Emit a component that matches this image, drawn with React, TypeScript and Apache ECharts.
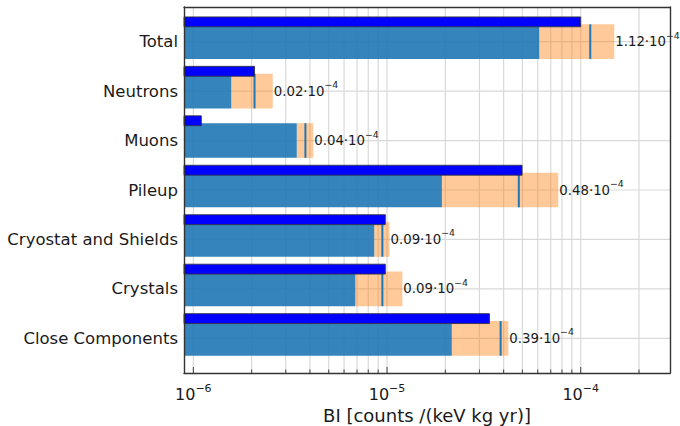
import React, { useEffect, useRef } from "react";
import * as echarts from "echarts";

const categories = [
  "Total",
  "Neutrons",
  "Muons",
  "Pileup",
  "Cryostat and Shields",
  "Crystals",
  "Close Components",
];
const blueEnd = [6.11e-5, 1.57e-6, 3.42e-6, 1.92e-5, 8.59e-6, 6.86e-6, 2.16e-5];
const orangeEnd = [1.49e-4, 2.57e-6, 4.16e-6, 7.66e-5, 1.03e-5, 1.2e-5, 4.23e-5];
const medianVal = [1.12e-4, 2.07e-6, 3.79e-6, 4.79e-5, 9.46e-6, 9.46e-6, 3.86e-5];
const refBar = [1.0e-4, 2.07e-6, 1.1e-6, 4.98e-5, 9.8e-6, 9.8e-6, 3.38e-5];
const valueLabels = ["1.12", "0.02", "0.04", "0.48", "0.09", "0.09", "0.39"];
const labelExp = "−4";

const XMIN = 0.895e-6;
const XMAX = 2.89e-4;
const majorTicks = [1e-6, 1e-5, 1e-4];
const minorTicks = [
  2e-6, 3e-6, 4e-6, 5e-6, 6e-6, 7e-6, 8e-6, 9e-6,
  2e-5, 3e-5, 4e-5, 5e-5, 6e-5, 7e-5, 8e-5, 9e-5,
  2e-4,
];
const YMIN = -0.7;
const YMAX = 6.7;

const FONT = "DejaVu Sans";
const TEXT = "#1a1a1a";

export default function App() {
  const ref = useRef<HTMLDivElement>(null);
  useEffect(() => {
    if (!ref.current) return;
    const chart = echarts.init(ref.current, null, { renderer: "svg" });

    const barData = categories.map((_, i) => [
      i,
      blueEnd[i],
      orangeEnd[i],
      medianVal[i],
      refBar[i],
    ]);
    const tickData = [
      ...majorTicks.map((v) => [v, 1]),
      ...minorTicks.map((v) => [v, 0]),
    ];
    const catData = categories.map((_, i) => [XMIN, i]);

    const frameLine = {
      show: true,
      onZero: false,
      lineStyle: { color: "#333", width: 1.4 },
    };

    const option: any = {
      animation: false,
      backgroundColor: "#fff",
      textStyle: { fontFamily: FONT },
      grid: {
        left: 184,
        top: 7,
        width: 486,
        height: 366,
        containLabel: false,
        outerBoundsMode: "none",
      },
      xAxis: [
        {
          type: "log",
          logBase: 10,
          min: XMIN,
          max: XMAX,
          position: "bottom",
          axisLine: frameLine,
          z: 10,
          axisTick: { show: false },
          splitLine: { show: false },
          minorTick: { show: false },
          axisLabel: {
            show: true,
            showMinLabel: false,
            showMaxLabel: false,
            margin: 10,
            formatter: (v: number) => {
              const l = Math.log10(v);
              if (Math.abs(l - Math.round(l)) > 0.01) return "";
              const e = Math.round(l);
              return `{m|10}{s|${e < 0 ? "−" + -e : e}}`;
            },
            rich: {
              m: { fontSize: 16, lineHeight: 22, color: TEXT, fontFamily: FONT, verticalAlign: "middle" },
              s: { fontSize: 11, lineHeight: 10, color: TEXT, fontFamily: FONT, verticalAlign: "top" },
            },
          },
          name: "BI [counts /(keV kg yr)]",
          nameLocation: "middle",
          nameGap: 33,
          nameTextStyle: { fontSize: 18, color: TEXT, fontFamily: FONT },
        },
        {
          type: "log",
          logBase: 10,
          min: XMIN,
          max: XMAX,
          position: "top",
          axisLine: frameLine,
          z: 10,
          axisTick: { show: false },
          axisLabel: { show: false },
          splitLine: { show: false },
        },
      ],
      yAxis: [
        {
          type: "value",
          min: YMIN,
          max: YMAX,
          inverse: true,
          position: "left",
          axisLine: frameLine,
          z: 10,
          axisTick: { show: false },
          axisLabel: { show: false },
          splitLine: { show: false },
        },
        {
          type: "value",
          min: YMIN,
          max: YMAX,
          inverse: true,
          position: "right",
          axisLine: frameLine,
          z: 10,
          axisTick: { show: false },
          axisLabel: { show: false },
          splitLine: { show: false },
        },
      ],
      series: [
        {
          type: "custom",
          name: "vgrid",
          xAxisIndex: 0,
          yAxisIndex: 0,
          z: 1,
          silent: true,
          data: tickData,
          encode: { x: 0 },
          renderItem: (params: any, api: any) => {
            const v = api.value(0);
            const major = api.value(1) === 1;
            const top = api.coord([v, YMIN]);
            const bot = api.coord([v, YMAX]);
            const tl = major ? 6 : 3.5;
            return {
              type: "group",
              children: [
                {
                  type: "line",
                  shape: { x1: top[0], y1: top[1], x2: bot[0], y2: bot[1] },
                  style: { stroke: "#d9d9d9", lineWidth: 1.2 },
                },
                {
                  type: "line",
                  z2: 5,
                  shape: { x1: bot[0], y1: bot[1], x2: bot[0], y2: bot[1] - tl },
                  style: { stroke: "#444", lineWidth: 1 },
                },
              ],
            };
          },
        },
        {
          type: "custom",
          name: "hgrid",
          xAxisIndex: 0,
          yAxisIndex: 0,
          z: 1,
          silent: true,
          data: catData,
          encode: { x: 0, y: 1 },
          renderItem: (params: any, api: any) => {
            const i = api.value(1);
            const a = api.coord([XMIN, i]);
            const b = api.coord([XMAX, i]);
            return {
              type: "group",
              children: [
                {
                  type: "line",
                  shape: { x1: a[0], y1: a[1], x2: b[0], y2: b[1] },
                  style: { stroke: "#d9d9d9", lineWidth: 1.2 },
                },
                {
                  type: "text",
                  style: {
                    x: a[0] - 6,
                    y: a[1],
                    text: categories[i],
                    align: "right",
                    verticalAlign: "middle",
                    fill: TEXT,
                    fontSize: 16.5,
                    fontFamily: FONT,
                  },
                },
              ],
            };
          },
        },
        {
          type: "custom",
          name: "bars",
          xAxisIndex: 0,
          yAxisIndex: 0,
          z: 3,
          data: barData,
          encode: { x: [1, 2, 3, 4], y: 0 },
          renderItem: (params: any, api: any) => {
            const i = api.value(0);
            const b = api.value(1);
            const o = api.value(2);
            const m = api.value(3);
            const r = api.value(4);
            const x0 = api.coord([XMIN, i])[0];
            const xb = api.coord([b, i])[0];
            const xo = api.coord([o, i])[0];
            const xm = api.coord([m, i])[0];
            const xr = api.coord([r, i])[0];
            const yT = api.coord([XMIN, i - 0.35])[1];
            const yB = api.coord([XMIN, i + 0.35])[1];
            const yC = api.coord([XMIN, i])[1];
            const dT = api.coord([XMIN, i - 0.5])[1];
            const dB = api.coord([XMIN, i - 0.3])[1];
            return {
              type: "group",
              children: [
                {
                  type: "rect",
                  shape: { x: xb, y: yT, width: xo - xb, height: yB - yT },
                  style: { fill: "rgba(255,127,14,0.42)" },
                },
                {
                  type: "rect",
                  shape: { x: x0, y: yT, width: xb - x0, height: yB - yT },
                  style: { fill: "rgba(31,119,180,0.9)" },
                },
                {
                  type: "line",
                  shape: { x1: xm, y1: yT, x2: xm, y2: yB },
                  style: { stroke: "#1f77b4", lineWidth: 2 },
                },
                {
                  type: "rect",
                  shape: { x: x0, y: dT, width: xr - x0, height: dB - dT },
                  style: { fill: "#0000ff", stroke: "rgba(50,50,60,0.85)", lineWidth: 1 },
                },
                {
                  type: "text",
                  style: {
                    x: xo + 1,
                    y: yC,
                    text: `{m|${valueLabels[i]}·10}{s|${labelExp}}`,
                    align: "left",
                    verticalAlign: "middle",
                    rich: {
                      m: { fontSize: 13.3, lineHeight: 22, fill: TEXT, fontFamily: FONT, verticalAlign: "middle" },
                      s: { fontSize: 9.3, lineHeight: 8, fill: TEXT, fontFamily: FONT, verticalAlign: "top" },
                    },
                  },
                },
              ],
            };
          },
        },
      ],
    };
    chart.setOption(option);
    return () => chart.dispose();
  }, []);
  return (
    <div
      ref={ref}
      style={{ position: "fixed", left: 0, top: 0, width: 680, height: 426, background: "#fff" }}
    />
  );
}
